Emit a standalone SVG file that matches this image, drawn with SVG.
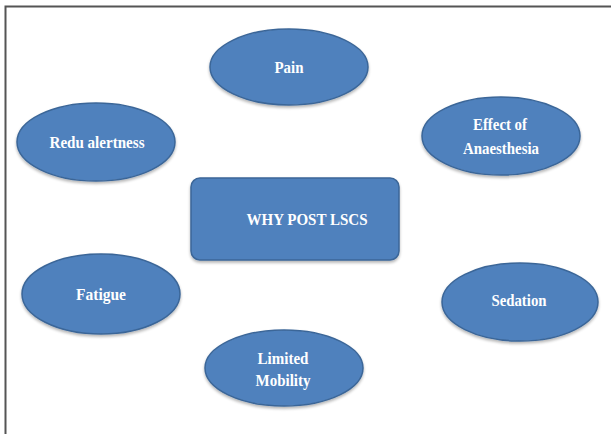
<svg xmlns="http://www.w3.org/2000/svg" width="611" height="434" viewBox="0 0 611 434">
<style>
.n{fill:#4F81BD;stroke:#3B6698;stroke-width:1.5;filter:url(#sh)}
.t{font-family:"Liberation Serif","Times New Roman",serif;font-weight:bold;font-size:16.5px;fill:#fff;text-anchor:middle}
</style>
<defs>
<filter id="sh" x="-10%" y="-10%" width="120%" height="130%">
<feGaussianBlur in="SourceAlpha" stdDeviation="1.5"/>
<feOffset dy="2" result="b"/>
<feComponentTransfer><feFuncA type="linear" slope="0.3"/></feComponentTransfer>
<feMerge><feMergeNode/><feMergeNode in="SourceGraphic"/></feMerge>
</filter>
</defs>
<rect width="611" height="434" fill="#fff"/>
<path d="M5.5,434 V6.5 H611" fill="none" stroke="#555" stroke-width="2"/>
<g id="connectors"></g>
<g id="center"><rect class="n" x="191" y="178" width="208" height="82" rx="9"/><text class="t" x="307" y="225" textLength="121" lengthAdjust="spacingAndGlyphs">WHY POST LSCS</text></g>
<g id="pain"><ellipse class="n" cx="289" cy="67" rx="79" ry="38"/><text class="t" x="289" y="73" textLength="29" lengthAdjust="spacingAndGlyphs">Pain</text></g>
<g id="redu"><ellipse class="n" cx="96" cy="142" rx="79" ry="39"/><text class="t" x="97" y="148" textLength="95" lengthAdjust="spacingAndGlyphs">Redu alertness</text></g>
<g id="effect"><ellipse class="n" cx="501" cy="136" rx="79" ry="39"/><text class="t" x="500" y="130" textLength="54" lengthAdjust="spacingAndGlyphs">Effect of</text><text class="t" x="501" y="154" textLength="76" lengthAdjust="spacingAndGlyphs">Anaesthesia</text></g>
<g id="fatigue"><ellipse class="n" cx="101" cy="294" rx="79" ry="40"/><text class="t" x="101" y="300" textLength="50" lengthAdjust="spacingAndGlyphs">Fatigue</text></g>
<g id="sedation"><ellipse class="n" cx="520" cy="302" rx="78" ry="39"/><text class="t" x="519" y="306" textLength="55" lengthAdjust="spacingAndGlyphs">Sedation</text></g>
<g id="mobility"><ellipse class="n" cx="284" cy="368" rx="79" ry="38"/><text class="t" x="283" y="364" textLength="51" lengthAdjust="spacingAndGlyphs">Limited</text><text class="t" x="283" y="386" textLength="55" lengthAdjust="spacingAndGlyphs">Mobility</text></g>
</svg>
